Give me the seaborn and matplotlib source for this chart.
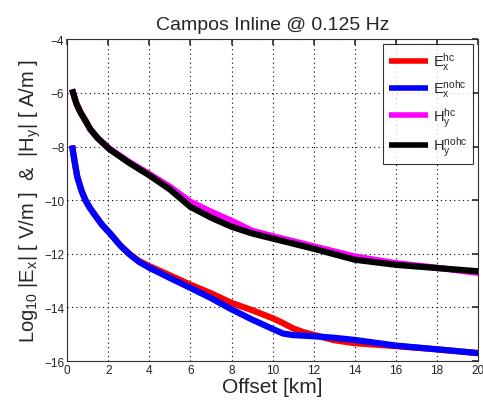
import matplotlib
matplotlib.use("Agg")
import matplotlib.pyplot as plt
import seaborn as sns
import numpy as np
import pandas as pd

# Offsets (km) and log10 amplitudes
x_e = [0.24, 0.35, 0.49, 0.7, 0.89, 1.1, 1.3, 1.7, 2.1, 2.6, 3.08, 3.5, 4.0, 5.0, 6.0, 7.0, 8.0, 9.0, 10.0, 10.5, 11.0, 11.5, 12.0, 13.0, 14.0, 16.0, 18.0, 20.0]
ex_hc = [-7.96, -8.5, -9.12, -9.65, -10.0, -10.28, -10.5, -10.92, -11.25, -11.7, -12.03, -12.27, -12.46, -12.8, -13.15, -13.47, -13.83, -14.1, -14.4, -14.58, -14.78, -14.92, -15.02, -15.22, -15.33, -15.44, -15.56, -15.7]
ex_nohc = [-7.96, -8.5, -9.12, -9.65, -10.0, -10.28, -10.5, -10.92, -11.25, -11.7, -12.05, -12.3, -12.52, -12.9, -13.27, -13.65, -14.07, -14.45, -14.8, -14.97, -15.03, -15.05, -15.07, -15.13, -15.21, -15.42, -15.56, -15.7]

x_h = [0.24, 0.45, 0.65, 0.9, 1.13, 1.5, 2.06, 3.0, 4.05, 5.0, 6.0, 7.0, 8.0, 9.0, 10.0, 12.0, 14.0, 16.0, 18.0, 20.0]
hy_hc = [-5.87, -6.4, -6.73, -7.05, -7.36, -7.7, -8.08, -8.57, -9.05, -9.5, -10.06, -10.43, -10.77, -11.14, -11.34, -11.72, -12.1, -12.35, -12.52, -12.71]
hy_nohc = [-5.87, -6.4, -6.73, -7.05, -7.36, -7.7, -8.1, -8.6, -9.1, -9.6, -10.25, -10.65, -10.99, -11.24, -11.43, -11.81, -12.22, -12.41, -12.53, -12.65]

labels = [r"E$_x^{hc}$", r"E$_x^{nohc}$", r"H$_y^{hc}$", r"H$_y^{nohc}$"]
colors = ["#ff0000", "#0000ff", "#ff00ff", "#000000"]

x_ticks = [0, 2, 4, 6, 8, 10, 12, 14, 16, 18, 20]
y_ticks = [-4, -6, -8, -10, -12, -14, -16]

sns.set_theme(style="white")
plt.rcParams["font.family"] = ["Liberation Sans", "DejaVu Sans"]
plt.rcParams["mathtext.fontset"] = "custom"
plt.rcParams["mathtext.rm"] = "Liberation Sans"
plt.rcParams["mathtext.it"] = "Liberation Sans"

fig = plt.figure(figsize=(4.83, 4.06), dpi=100)
ax = fig.add_axes([0.139, 0.108, 0.851, 0.793])

series = [(x_e, ex_hc), (x_e, ex_nohc), (x_h, hy_hc), (x_h, hy_nohc)]
for (xs, ys), lab, col in zip(series, labels, colors):
    df = pd.DataFrame({"x": xs, "y": ys})
    sns.lineplot(data=df, x="x", y="y", ax=ax, color=col, linewidth=4.5,
                 label=lab, sort=False, estimator=None,
                 solid_joinstyle="round", solid_capstyle="butt")

ax.set_xlim(0, 20)
ax.set_ylim(-16, -4)
ax.set_xticks(x_ticks)
ax.set_yticks(y_ticks)
ax.tick_params(direction="in", length=4, labelsize=8.5, top=True, right=True,
               colors="#333333", labelcolor="#222222", pad=2)
ax.grid(True, linestyle=(0, (1, 3)), color="#000000", linewidth=0.8)
for s in ax.spines.values():
    s.set_color("#333333")
    s.set_linewidth(0.8)

ax.set_title("Campos Inline @ 0.125 Hz", fontsize=14, pad=7)
ax.set_xlabel("Offset [km]", fontsize=15, labelpad=1)
ax.set_ylabel(r"Log$_{10}$ |E$_x$| [ V/m ]  &  |H$_y$| [ A/m ]", fontsize=14.5, labelpad=1)

leg = ax.legend(loc="upper right", fontsize=10.5, frameon=True, fancybox=False,
                edgecolor="#000000", handlelength=2.7, handletextpad=0.3,
                borderaxespad=0.35, labelspacing=0.38, borderpad=0.4)
leg.get_frame().set_linewidth(0.8)
for line in leg.get_lines():
    line.set_linewidth(4)

fig.savefig("out.png", dpi=100)
